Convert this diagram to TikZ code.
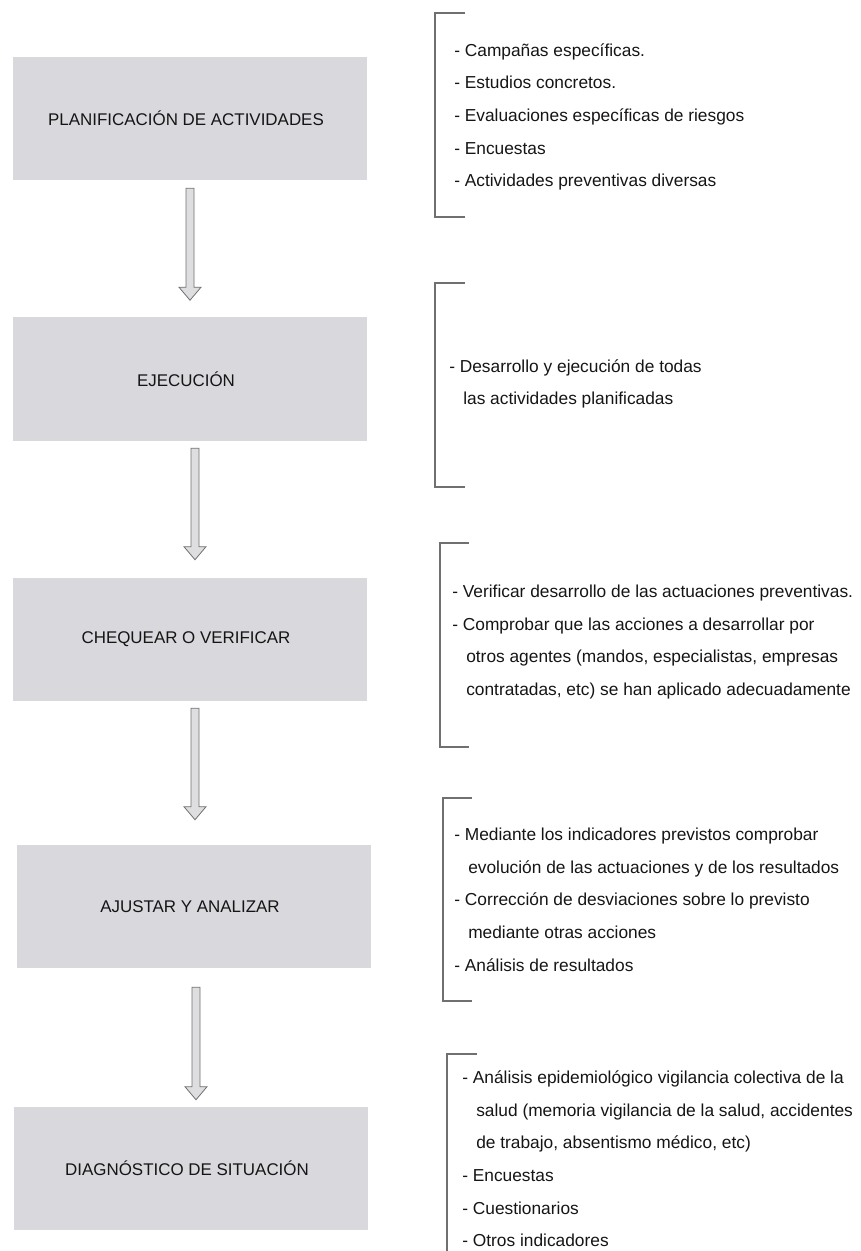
\documentclass[tikz,border=0pt]{standalone}
\usepackage{fontspec}
\setmainfont{Liberation Sans}
\usetikzlibrary{calc}
\definecolor{boxgray}{RGB}{216,216,221}
\definecolor{arrowfill}{RGB}{222,222,224}
\definecolor{linegray}{RGB}{112,112,112}
\definecolor{txt}{RGB}{22,20,20}
\newcommand{\ind}{\hspace*{10.5pt}}
\newcommand{\fatarrow}[2]{%
  \draw[fatarrow] ($#1+(-4,0)$) -- ($#2+(-4,-13)$) -- ($#2+(-11,-13)$) -- ($#2$)
    -- ($#2+(11,-13)$) -- ($#2+(4,-13)$) -- ($#1+(4,0)$) -- cycle;}
\begin{document}
\begin{tikzpicture}[x=0.75pt,y=-0.75pt,
  stage/.style={fill=boxgray, minimum width=265.5pt, minimum height=92.25pt,
    inner sep=0pt, text=txt, font=\fontsize{12.7}{15}\selectfont,
    execute at end node={\hspace*{6pt}}},
  fatarrow/.style={fill=arrowfill, draw=linegray, line width=0.6pt, line join=miter},
  bracket/.style={draw=linegray, line width=1.1pt},
  notes/.style={anchor=west, align=left, inner sep=0pt, text=txt,
    font=\fontsize{13}{24.5}\selectfont}]
\useasboundingbox (0,0) rectangle (860,1251);

% stage boxes
\node[stage] (b1) at (190,118.5) {PLANIFICACIÓN DE ACTIVIDADES};
\node[stage] (b2) at (190,379) {EJECUCIÓN};
\node[stage] (b3) at (190,639) {CHEQUEAR O VERIFICAR};
\node[stage] (b4) at (194,906.5) {AJUSTAR Y ANALIZAR};
\node[stage] (b5) at (191,1168.5) {DIAGNÓSTICO DE SITUACIÓN};

% arrows
\fatarrow{(b1.south)+(0,8)}{(b2.north)+(0,-17)}
\fatarrow{(b2.south)+(5,7.5)}{(b3.north)+(5,-17.5)}
\fatarrow{(b3.south)+(5,7.5)}{(b4.north)+(1,-25)}
\fatarrow{(b4.south)+(2,19)}{(b5.north)+(5,-7)}

% brackets
\draw[bracket] (465,13) -- (435,13) -- (435,217) -- (465,217);
\draw[bracket] (465,283) -- (435,283) -- (435,487) -- (465,487);
\draw[bracket] (469,543) -- (440,543) -- (440,747) -- (469,747);
\draw[bracket] (472,798) -- (443,798) -- (443,1001) -- (472,1001);
\draw[bracket] (477,1054) -- (447,1054) -- (447,1251);

% notes
\node[notes] (t1) at (454,117) {- Campañas específicas.\\- Estudios concretos.\\- Evaluaciones específicas de riesgos\\- Encuestas\\- Actividades preventivas diversas};
\node[notes] (t2) at (449,384) {- Desarrollo y ejecución de todas\\\ind las actividades planificadas};
\node[notes] (t3) at (452,642) {- Verificar desarrollo de las actuaciones preventivas.\\- Comprobar que las acciones a desarrollar por\\\ind otros agentes (mandos, especialistas, empresas\\\ind contratadas, etc) se han aplicado adecuadamente};
\node[notes] (t4) at (454,899.5) {- Mediante los indicadores previstos comprobar\\\ind evolución de las actuaciones y de los resultados\\- Corrección de desviaciones sobre lo previsto\\\ind mediante otras acciones\\- Análisis de resultados};
\node[notes] (t5) at (462,1159) {- Análisis epidemiológico vigilancia colectiva de la\\\ind salud (memoria vigilancia de la salud, accidentes\\\ind de trabajo, absentismo médico, etc)\\- Encuestas\\- Cuestionarios\\- Otros indicadores};
\end{tikzpicture}
\end{document}
